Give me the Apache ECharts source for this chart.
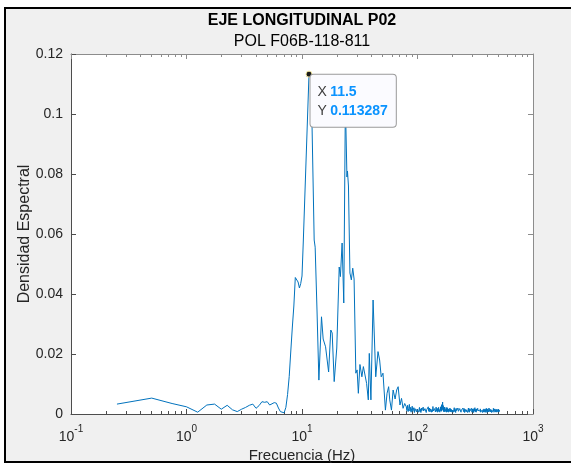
<!DOCTYPE html>
<html>
<head>
<meta charset="utf-8">
<script src="https://cdn.jsdelivr.net/npm/echarts@6/dist/echarts.min.js"></script>
<style>
  html, body { margin: 0; padding: 0; background: #fff; }
  #chart { width: 571px; height: 465px; }
</style>
</head>
<body>
<div id="chart"></div>
<script>
// spectrum: 0.25 Hz .. ~78 Hz (peaks)
const peakFreq = [
  0.25, 0.5, 0.75, 1.0, 1.25, 1.5, 1.75, 2.0, 2.25, 2.5, 2.75, 3.0, 3.25, 3.5, 3.75, 4.0,
  4.25, 4.5, 4.75, 5.0, 5.25, 5.5, 5.75, 6.0, 6.25, 6.5, 6.75, 7.0, 7.25, 7.5, 7.75, 8.0,
  8.25, 8.5, 8.75, 9.0, 9.25, 9.5, 9.75, 10.0, 10.25, 11.5, 12.0, 12.75, 13.0, 13.5, 14.0,
  14.75, 15.25, 16.0, 17.0, 17.75, 18.25, 19.0, 20.0, 21.0, 21.5, 22.25, 23.0, 23.75, 24.5,
  24.75, 25.25, 26.0, 26.75, 27.5, 28.25, 29.25, 30.0, 30.75, 31.75, 33.0, 34.0, 36.25,
  37.5, 38.25, 39.5, 41.25, 43.5, 45.5, 47.0, 48.5, 50.25, 52.75, 54.5, 56.25, 57.5, 59.5,
  61.5, 64.0, 66.0, 68.0, 70.5, 72.75, 75.0, 77.5
];
const peakDensity = [
  0.0033, 0.0053, 0.0035, 0.0024, 0.0006, 0.0030, 0.0033, 0.0016, 0.0029, 0.0014, 0.0008, 0.0016, 0.0022, 0.0029, 0.0033, 0.0019,
  0.0028, 0.0041, 0.0039, 0.0041, 0.0030, 0.0034, 0.0038, 0.0036, 0.0020, 0.0008, 0.0006, 0.0004, 0.0022, 0.0065, 0.0125, 0.0210,
  0.0290, 0.0360, 0.0455, 0.0458, 0.0440, 0.0420, 0.0435, 0.0460, 0.0570, 0.113287, 0.1120, 0.0580, 0.0556, 0.0340, 0.0113,
  0.0324, 0.0250, 0.0224, 0.0140, 0.0280, 0.0270, 0.0108, 0.0220, 0.0490, 0.0458, 0.0570, 0.0370, 0.1040, 0.0790,
  0.0810, 0.0760, 0.0470, 0.0447, 0.0486, 0.0450, 0.0136, 0.0147, 0.0069, 0.0165, 0.0124, 0.0158, 0.0102,
  0.0047, 0.0202, 0.0047, 0.0380, 0.0124, 0.0208, 0.0180, 0.0124, 0.0136, 0.0013, 0.0069, 0.0091, 0.0047, 0.0013,
  0.0080, 0.0050, 0.0080, 0.0091, 0.0030, 0.0052, 0.0019, 0.0035
];

// high-frequency noise floor, 80 .. 512 Hz
const tailFreq = [
  80, 81, 82, 83, 84, 85, 86, 87, 88, 89, 90, 91, 92, 93, 94, 95, 96, 97, 98, 99,
  100, 101, 102, 103, 104, 105, 106, 107, 108, 109, 110, 111, 112, 113, 114, 115, 116, 117, 118, 119,
  120, 121, 122, 123, 124, 125, 126, 127, 128, 129, 130, 131, 132, 133, 134, 135, 136, 137, 138, 139,
  140, 141, 142, 143, 144, 145, 146, 147, 148, 149, 150, 151, 152, 153, 154, 155, 156, 157, 158, 159,
  160, 161, 162, 163, 164, 165, 166, 167, 168, 169, 170, 171, 172, 173, 174, 175, 176, 177, 178, 179,
  180, 181, 182, 183, 184, 185, 186, 187, 188, 189, 190, 191, 192, 193, 194, 195, 196, 197, 198, 199,
  200,
  202, 204, 206, 208, 210, 212, 214, 216, 218, 220, 222, 224, 226, 228, 230, 232, 234, 236, 238, 240,
  242, 244, 246, 248, 250, 252, 254, 256, 258, 260, 262, 264, 266, 268, 270, 272, 274, 276, 278, 280,
  282, 284, 286, 288, 290, 292, 294, 296, 298, 300, 302, 304, 306, 308, 310, 312, 314, 316, 318, 320,
  322, 324, 326, 328, 330, 332, 334, 336, 338, 340, 342, 344, 346, 348, 350, 352, 354, 356, 358, 360,
  362, 364, 366, 368, 370, 372, 374, 376, 378, 380, 382, 384, 386, 388, 390, 392, 394, 396, 398, 400,
  402, 404, 406, 408, 410, 412, 414, 416, 418, 420, 422, 424, 426, 428, 430, 432, 434, 436, 438, 440,
  442, 444, 446, 448, 450, 452, 454, 456, 458, 460, 462, 464, 466, 468, 470, 472, 474, 476, 478, 480,
  482, 484, 486, 488, 490, 492, 494, 496, 498, 500, 502, 504, 506, 508, 510, 512
];
const tailDensity = [
  0.0024, 0.0011, 0.0029, 0.0008, 0.0019, 0.0032, 0.0010, 0.0022, 0.0006, 0.0017, 0.0026, 0.0009, 0.0015, 0.0021, 0.0005, 0.0018, 0.0012, 0.0023, 0.0007, 0.0016,
  0.0011, 0.0019, 0.0006, 0.0014, 0.0022, 0.0008, 0.0016, 0.0005, 0.0020, 0.0011, 0.0017, 0.0007, 0.0023, 0.0010, 0.0015, 0.0006, 0.0018, 0.0012, 0.0021, 0.0005,
  0.0014, 0.0019, 0.0008, 0.0016, 0.0024, 0.0009, 0.0013, 0.0020, 0.0007, 0.0017, 0.0011, 0.0022, 0.0006, 0.0015, 0.0019, 0.0008, 0.0025, 0.0010, 0.0014, 0.0005,
  0.0018, 0.0012, 0.0021, 0.0007, 0.0016, 0.0023, 0.0009, 0.0013, 0.0019, 0.0006, 0.0017, 0.0010, 0.0022, 0.0008, 0.0015, 0.0020, 0.0006, 0.0014, 0.0024, 0.0011,
  0.0022, 0.0009, 0.0031, 0.0012, 0.0026, 0.0040, 0.0015, 0.0028, 0.0008, 0.0019, 0.0012, 0.0023, 0.0007, 0.0016, 0.0020, 0.0009, 0.0014, 0.0022, 0.0006, 0.0018,
  0.0010, 0.0021, 0.0008, 0.0015, 0.0019, 0.0006, 0.0017, 0.0012, 0.0023, 0.0009, 0.0014, 0.0020, 0.0007, 0.0016, 0.0011, 0.0022, 0.0008, 0.0015, 0.0018, 0.0006,
  0.0013,
  0.0017, 0.0006, 0.0014, 0.0021, 0.0008, 0.0015, 0.0005, 0.0019, 0.0011, 0.0016, 0.0007, 0.0020, 0.0009, 0.0014, 0.0006, 0.0018, 0.0012, 0.0022, 0.0006, 0.0013,
  0.0017, 0.0007, 0.0015, 0.0020, 0.0008, 0.0012, 0.0018, 0.0005, 0.0016, 0.0010, 0.0019, 0.0007, 0.0014, 0.0009, 0.0017, 0.0005, 0.0013, 0.0020, 0.0008, 0.0015,
  0.0006, 0.0018, 0.0011, 0.0016, 0.0007, 0.0014, 0.0019, 0.0006, 0.0012, 0.0017, 0.0008, 0.0015, 0.0005, 0.0018, 0.0010, 0.0014, 0.0021, 0.0007, 0.0013, 0.0016,
  0.0006, 0.0017, 0.0010, 0.0015, 0.0007, 0.0019, 0.0012, 0.0006, 0.0016, 0.0011, 0.0018, 0.0007, 0.0014, 0.0010, 0.0017, 0.0006, 0.0013, 0.0015, 0.0008, 0.0019,
  0.0009, 0.0016, 0.0005, 0.0014, 0.0020, 0.0007, 0.0012, 0.0017, 0.0006, 0.0015, 0.0011, 0.0018, 0.0007, 0.0013, 0.0016, 0.0005, 0.0019, 0.0009, 0.0014, 0.0012,
  0.0017, 0.0006, 0.0015, 0.0010, 0.0018, 0.0007, 0.0013, 0.0020, 0.0008, 0.0014, 0.0006, 0.0016, 0.0011, 0.0019, 0.0007, 0.0015, 0.0009, 0.0017, 0.0005, 0.0013,
  0.0018, 0.0008, 0.0014, 0.0011, 0.0016, 0.0006, 0.0019, 0.0010, 0.0013, 0.0007, 0.0015, 0.0009, 0.0017, 0.0006, 0.0014, 0.0012, 0.0018, 0.0007, 0.0016, 0.0010,
  0.0013, 0.0019, 0.0006, 0.0015, 0.0009, 0.0017, 0.0008, 0.0014, 0.0011, 0.0016, 0.0007, 0.0015, 0.0010, 0.0018, 0.0008, 0.0013
];

// data tip shown on the main peak
const tipFreq = 11.5;
const tipValue = 0.113287;

const majorTicks = [0.1, 1, 10, 100, 1000];
const minorTicks = [
  0.2, 0.3, 0.4, 0.5, 0.6, 0.7, 0.8, 0.9,
  2, 3, 4, 5, 6, 7, 8, 9,
  20, 30, 40, 50, 60, 70, 80, 90,
  200, 300, 400, 500, 600, 700, 800, 900
];

const titleText = 'EJE LONGITUDINAL P02';
const subtitleText = 'POL F06B-118-811';

const font = 'Liberation Sans, Arial, Helvetica, sans-serif';
const axisDark = '#4d4d4d';
const axisLight = '#8c8c8c';
const textColor = '#262626';

const freq = peakFreq.concat(tailFreq);
const dens = peakDensity.concat(tailDensity);
const seriesData = freq.map((f, i) => [f, dens[i]]);

function logAxis(position, minor, showLabel, color) {
  const ax = {
    type: 'log',
    logBase: 10,
    min: 0.1,
    max: 1000,
    position: position,
    axisLine: { show: !minor, lineStyle: { color: color, width: 1 } },
    axisTick: {
      show: true,
      inside: true,
      length: minor ? 3 : 5,
      customValues: minor ? minorTicks : majorTicks,
      lineStyle: { color: color, width: 1 }
    },
    axisLabel: { show: false },
    splitLine: { show: false },
    minorSplitLine: { show: false }
  };
  if (showLabel) {
    ax.axisLabel = {
      show: true,
      customValues: majorTicks,
      margin: 10,
      color: textColor,
      fontFamily: font,
      formatter: function (v) {
        const e = Math.round(Math.log10(v));
        return '{b|10}{s|' + e + '}';
      },
      rich: {
        b: { fontSize: 14, fontFamily: font, color: textColor, verticalAlign: 'bottom', lineHeight: 20 },
        s: { fontSize: 10, fontFamily: font, color: textColor, verticalAlign: 'top', lineHeight: 20 }
      }
    };
    ax.name = 'Frecuencia (Hz)';
    ax.nameLocation = 'middle';
    ax.nameGap = 34;
    ax.nameMoveOverlap = false;
    ax.nameTextStyle = { fontFamily: font, fontSize: 15, color: textColor, verticalAlign: 'top' };
  }
  return ax;
}

function valAxis(position, showLabel, color) {
  const ax = {
    type: 'value',
    min: 0,
    max: 0.12,
    interval: 0.02,
    position: position,
    axisLine: { show: true, lineStyle: { color: color, width: 1 } },
    axisTick: { show: true, inside: true, length: 5, lineStyle: { color: color } },
    axisLabel: { show: false },
    splitLine: { show: false }
  };
  if (showLabel) {
    ax.axisLabel = { show: true, margin: 8, color: textColor, fontSize: 14, fontFamily: font };
    ax.name = 'Densidad Espectral';
    ax.nameLocation = 'middle';
    ax.nameGap = 38;
    ax.nameMoveOverlap = false;
    ax.nameTextStyle = { fontFamily: font, fontSize: 16, color: textColor };
  }
  return ax;
}

const chart = echarts.init(document.getElementById('chart'), null, { renderer: 'canvas' });

const option = {
  backgroundColor: '#ffffff',
  animation: false,
  graphic: [
    {
      type: 'rect',
      z: -20,
      silent: true,
      shape: { x: 5, y: 8, width: 600, height: 454 },
      style: { fill: '#f0f0f0', stroke: '#000', lineWidth: 2 }
    },
    {
      type: 'text',
      x: 302, y: 21,
      style: { text: titleText, font: 'bold 16px ' + font, fill: '#000', align: 'center', verticalAlign: 'middle' }
    },
    {
      type: 'text',
      x: 302, y: 42,
      style: { text: subtitleText, font: '16px ' + font, fill: '#000', align: 'center', verticalAlign: 'middle' }
    }
  ],
  grid: {
    left: 71, right: 38, top: 54, bottom: 51,
    outerBoundsMode: 'none',
    containLabel: false,
    show: true, backgroundColor: '#ffffff', borderWidth: 0, z: -10
  },
  xAxis: [
    logAxis('bottom', false, true, axisDark),
    logAxis('bottom', true, false, axisDark),
    logAxis('top', false, false, axisLight),
    logAxis('top', true, false, axisLight)
  ],
  yAxis: [
    valAxis('left', true, axisDark),
    valAxis('right', false, axisLight)
  ],
  series: [
    {
      type: 'line',
      xAxisIndex: 0,
      yAxisIndex: 0,
      data: seriesData,
      showSymbol: false,
      symbol: 'none',
      lineStyle: { color: '#0072BD', width: 1 },
      z: 3,
      markPoint: {
        z: 10,
        symbol: 'circle',
        symbolSize: 6,
        itemStyle: { color: '#1a1a1a', borderColor: '#f3e9a0', borderWidth: 1 },
        data: [{ coord: [tipFreq, tipValue] }],
        label: {
          show: true,
          position: [5, 4],
          align: 'left',
          verticalAlign: 'top',
          formatter: function () {
            return '{k|X} {v|' + tipFreq + '}\n{k|Y} {v|' + tipValue + '}';
          },
          backgroundColor: '#fbfbff',
          borderColor: '#9a9a9a',
          borderWidth: 1,
          borderRadius: 3,
          padding: [8, 8, 6, 7],
          rich: {
            k: { color: '#404040', fontSize: 14, lineHeight: 19, fontFamily: font },
            v: { color: '#0a93ff', fontSize: 14, lineHeight: 19, fontWeight: 'bold', fontFamily: font }
          }
        }
      }
    }
  ]
};

chart.setOption(option);
</script>
</body>
</html>
